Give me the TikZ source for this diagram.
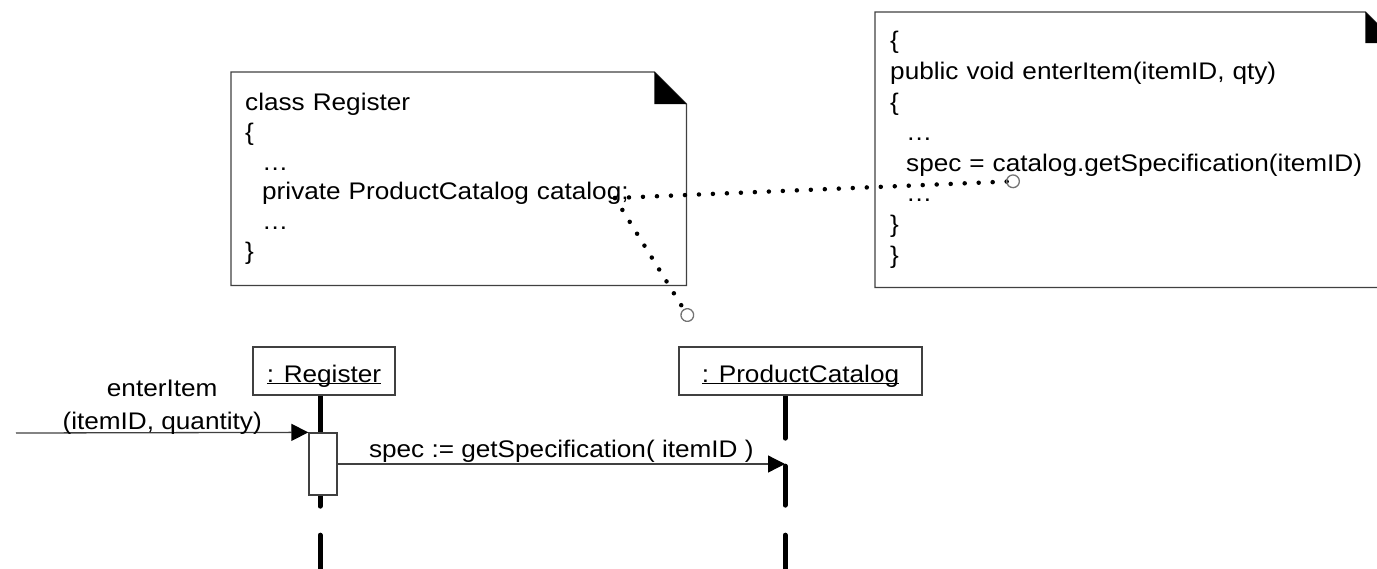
\documentclass[tikz,border=0pt]{standalone}
\usepackage{fontspec}
\setmainfont{Liberation Sans}[FakeStretch=1.09]
\usetikzlibrary{arrows.meta,calc,backgrounds}

\begin{document}
\begin{tikzpicture}[
    x=1pt, y=-1pt,
    font=\fontsize{24}{30}\selectfont,
    note/.style={rectangle, inner xsep=14pt, inner ysep=0pt, align=left, anchor=north west},
    noteline/.style={draw=black!75, line width=1.3pt},
    obj/.style={rectangle, draw=black!75, line width=1.3pt, fill=white, text height=24pt, text depth=2pt, inner ysep=0pt, minimum height=48pt},
    exec/.style={rectangle, draw=black!75, line width=1.3pt, fill=white, minimum width=28pt, minimum height=62pt, inner sep=0pt},
    lifeline/.style={line width=5pt, line cap=round},
    msg/.style={draw=black!75, line width=1.3pt, -{Triangle[length=17pt, width=17pt, color=black]}},
    link/.style={line width=4.5pt, line cap=round, dash pattern=on 0pt off 14pt, -{Circle[open, length=14pt, width=14pt, line width=1.3pt, color=black!55]}}
]
\useasboundingbox (0,0) rectangle (1377,568);

% Code notes
\node[note, text width=427pt, minimum height=213pt, font=\fontsize{24}{29.7}\selectfont] (regnote) at (231,72)
    {class Register\\ \{\\ \hspace*{17pt}\ldots\\ \hspace*{17pt}private ProductCatalog catalog;\\ \hspace*{17pt}\ldots\\ \}};
\draw[noteline] (regnote.north west) -- ($(regnote.north east)+(-32,0)$) -- ($(regnote.north east)+(0,32)$) -- (regnote.south east) -- (regnote.south west) -- cycle;
\fill ($(regnote.north east)+(-32,0)$) -- ++(0,32) -- ++(32,0) -- cycle;

\node[note, inner xsep=15pt, text width=491pt, minimum height=275pt, font=\fontsize{24}{30.6}\selectfont] (itemnote) at (875,12)
    {\{\\ public void enterItem(itemID, qty)\\ \{\\ \hspace*{16pt}\ldots\\ \hspace*{16pt}spec = catalog.getSpecification(itemID)\\ \hspace*{16pt}\ldots\\ \}\\ \}};
\draw[noteline] (itemnote.north west) -- ($(itemnote.north east)+(-31,0)$) -- ($(itemnote.north east)+(0,31)$) -- (itemnote.south east) -- (itemnote.south west) -- cycle;
\fill ($(itemnote.north east)+(-31,0)$) -- ++(0,31) -- ++(31,0) -- cycle;

% Objects and lifelines
\node[obj, minimum width=142pt] (regobj) at (324,371) {\underline{\smash{: Register}}};
\node[obj, minimum width=243pt] (catobj) at (800.5,371) {\underline{\smash{: ProductCatalog}}};

\coordinate (regbot) at (320,580);
\coordinate (catbot) at (785,580);
\begin{scope}[on background layer]
\draw[lifeline, dash pattern=on 110.5pt off 29pt on 100pt] (regbot |- regobj.south) -- (regbot);
\draw[lifeline, dash pattern=on 42.5pt off 28pt on 39pt off 30pt on 100pt] (catbot |- catobj.south) -- (catbot);
\end{scope}

\node[exec] (act) at (323,464) {};

% Messages
\coordinate (caller) at (16,433);
\draw[msg] (caller) -- (act.north west)
    node[midway, above, inner sep=0pt, yshift=-2pt, align=center, font=\fontsize{24}{33}\selectfont] (enterlbl) {enterItem\\(itemID, quantity)};
\draw[msg] (act.east) -- (act.east -| catbot)
    node[midway, above, inner sep=1pt] (speclbl) {spec := getSpecification( itemID )};

% Dotted links from the attribute
\coordinate (catref) at (615,198);
\coordinate (specref) at (1020,181);
\coordinate (liferef) at (691,321);
\draw[link] (catref) -- (specref);
\draw[link] (catref) -- (liferef);

\end{tikzpicture}
\end{document}
